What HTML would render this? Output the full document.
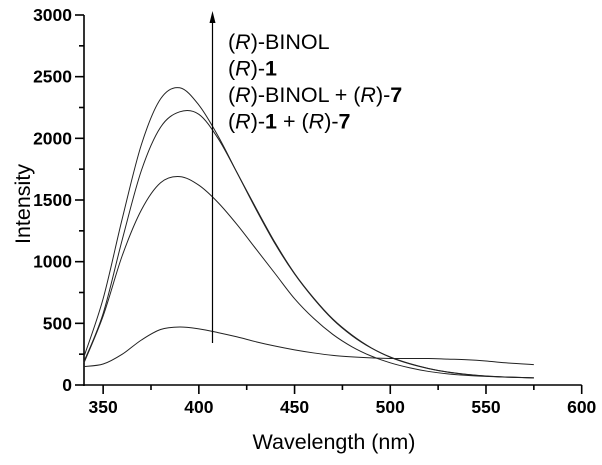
<!DOCTYPE html>
<html><head><meta charset="utf-8"><style>
body{margin:0;background:#fff}
svg{font-family:"Liberation Sans",Arial,sans-serif}
</style></head><body>
<svg id="c" width="602" height="460"></svg>
<script>
const wl=[340,350,360,370,380,390,400,410,420,430,440,450,460,470,480,490,500,510,520,530,540,550,560,575];
const sBinol7=[230,700,1350,1950,2320,2410,2270,2020,1720,1420,1140,900,700,530,400,300,225,172,133,104,85,72,65,58];
const sR1=[190,580,1180,1740,2090,2215,2195,2000,1720,1430,1150,905,705,535,405,302,227,174,134,105,86,73,65,58];
const sR17=[180,560,1050,1420,1640,1690,1620,1480,1300,1100,900,700,540,410,310,235,180,140,110,90,78,70,64,58];
const sBinol=[150,170,250,365,450,470,455,425,390,350,315,285,260,240,228,220,215,215,215,210,205,195,180,165];
const xTicks=[350,400,450,500,550,600];
const yTicks=[0,500,1000,1500,2000,2500,3000];
const NS="http://www.w3.org/2000/svg";
const svg=document.getElementById('c');
const X=v=>84+(v-340)*(581.7-84)/260;
const Y=v=>385-v*370/3000;
function el(t,a,p){const e=document.createElementNS(NS,t);for(const k in a)e.setAttribute(k,a[k]);(p||svg).appendChild(e);return e;}
const ax=el('g',{stroke:'#000','stroke-width':1.6,fill:'none'});


el('line',{x1:84,y1:Y(3000),x2:84,y2:386},ax);
el('line',{x1:83,y1:385,x2:X(600),y2:385},ax);
for(let v=0;v<=3000;v+=250){el('line',{x1:v%500?79:75,y1:Y(v),x2:84,y2:Y(v)},ax);}
for(let v=350;v<=600;v+=25){el('line',{x1:X(v),y1:385,x2:X(v),y2:v%50?390:394},ax);}
yTicks.forEach(v=>{const t=el('text',{x:72,y:Y(v)+6,'text-anchor':'end','font-size':17.5,'font-weight':'bold'});t.textContent=v;

});
xTicks.forEach(v=>{const t=el('text',{x:X(v),y:413,'text-anchor':'middle','font-size':17.5,'font-weight':'bold'});t.textContent=v;

});
const xt=el('text',{x:334,y:449,'text-anchor':'middle','font-size':21.5});xt.textContent='Wavelength (nm)';


const yt=el('text',{x:0,y:0,'text-anchor':'middle','font-size':21.5,transform:'translate(30,204) rotate(-90)'});yt.textContent='Intensity';


function path(d){const p=d.map((v,i)=>[X(wl[i]),Y(v)]);let s='M'+p[0][0]+','+p[0][1];
for(let i=0;i<p.length-1;i++){const p0=p[i-1]||p[i],p1=p[i],p2=p[i+1],p3=p[i+2]||p2;
s+=' C'+(p1[0]+(p2[0]-p0[0])/6)+','+(p1[1]+(p2[1]-p0[1])/6)+' '+(p2[0]-(p3[0]-p1[0])/6)+','+(p2[1]-(p3[1]-p1[1])/6)+' '+p2[0]+','+p2[1];}return s;}
[[sBinol7,'series-binol-plus-7'],[sR1,'series-r1'],[sR17,'series-r1-plus-7'],[sBinol,'series-binol']].forEach(([d,n])=>{
const p=el('path',{d:path(d),fill:'none',stroke:'#222','stroke-width':1});

});
const ar=el('g',{});


el('line',{x1:212.5,y1:343,x2:212.5,y2:20,stroke:'#000','stroke-width':1.2},ar);
el('polygon',{points:'212.5,11 209.5,23 215.5,23',fill:'#000'},ar);
const lg=el('g',{'font-size':21.5});


const items=['(<tspan font-style="italic">R</tspan>)-BINOL','(<tspan font-style="italic">R</tspan>)-<tspan font-weight="bold">1</tspan>','(<tspan font-style="italic">R</tspan>)-BINOL + (<tspan font-style="italic">R</tspan>)-<tspan font-weight="bold">7</tspan>','(<tspan font-style="italic">R</tspan>)-<tspan font-weight="bold">1</tspan> + (<tspan font-style="italic">R</tspan>)-<tspan font-weight="bold">7</tspan>'];
items.forEach((h,i)=>{const t=el('text',{x:228,y:49+i*26.5},lg);t.innerHTML=h;

});
</script>
</body></html>
